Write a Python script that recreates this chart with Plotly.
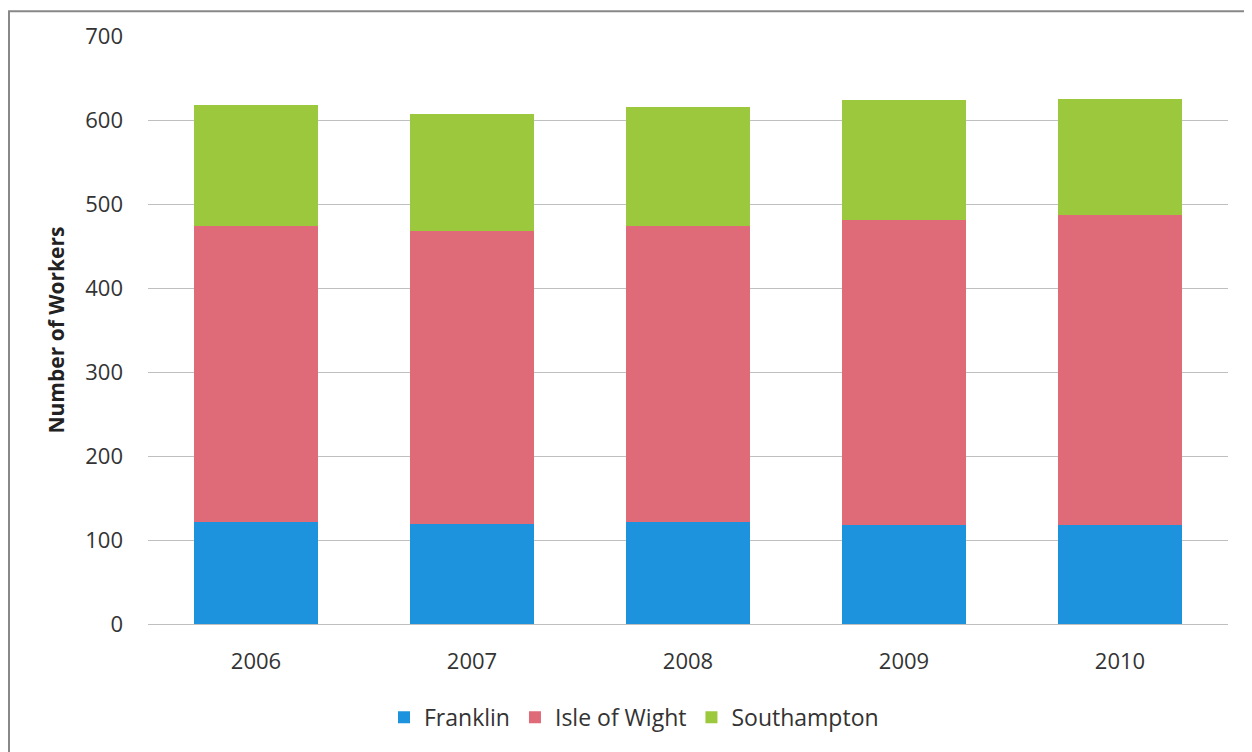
import plotly.graph_objects as go

years = ["2006", "2007", "2008", "2009", "2010"]
franklin = [121, 119, 122, 118, 118]
isle_of_wight = [353, 349, 352, 363, 369]
southampton = [144, 139, 141, 143, 138]

series = [
    ("Franklin", franklin, "#1E93DD"),
    ("Isle of Wight", isle_of_wight, "#DF6A78"),
    ("Southampton", southampton, "#9CC83E"),
]

fig = go.Figure()
for name, vals, col in series:
    fig.add_trace(go.Bar(x=years, y=vals, name=name, marker=dict(color=col, line=dict(width=0))))

fig.update_layout(
    barmode="stack",
    bargap=0.43,
    width=1252, height=752,
    margin=dict(l=140, r=32, t=26, b=136),
    paper_bgcolor="white", plot_bgcolor="white",
    font=dict(family="Open Sans, Lato, sans-serif", size=22, color="#333333"),
    showlegend=True,
    legend=dict(orientation="h", x=0.45, xanchor="center", y=-0.122, yanchor="top",
                font=dict(size=23, color="#333333"), traceorder="normal",
                itemwidth=30),
    xaxis=dict(showgrid=False, showline=False, ticks="", tickfont=dict(size=22),
               ticklabelstandoff=22),
    yaxis=dict(range=[0, 700], dtick=100, showgrid=True, gridcolor="#BFBFBF", gridwidth=1,
               zeroline=True, zerolinecolor="#BFBFBF", zerolinewidth=1,
               tickfont=dict(size=22), ticklabelstandoff=24,
               title=dict(text="<b>Number of Workers</b>", font=dict(size=21, color="#222222"), standoff=14)),
    shapes=[dict(type="rect", xref="paper", yref="paper", x0=-0.1287, x1=1.0194, y0=-0.35, y1=1.042,
                 line=dict(color="#888888", width=2), fillcolor="rgba(0,0,0,0)", layer="below")],
)

fig.write_html("out.html")
